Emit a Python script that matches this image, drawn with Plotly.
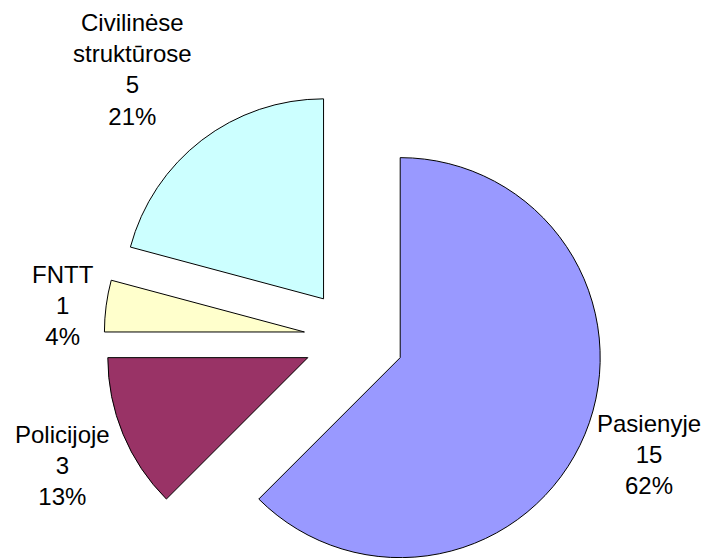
import numpy as np
import plotly.graph_objects as go

# data
labels = ["Pasienyje", "Policijoje", "FNTT", "Civilinėse<br>struktūrose"]
values = [15, 3, 1, 5]
percent_labels = ["62%", "13%", "4%", "21%"]
colors = ["#9999FF", "#993366", "#FFFFCC", "#CCFFFF"]

# the page body has an 8px margin, so the figure is a little smaller than the window
W, H = 701, 550
R = 200            # pie radius, px
EXPLODE = 50       # every slice pushed out by this much, px
CX, CY = 346, 330.5  # pie centre, px from figure top-left

# label block centres, px from figure top-left
label_xy = [(641, 446), (55, 457), (55, 297.5), (124, 61.5)]

fracs = np.array(values) / sum(values)
starts = np.concatenate([[0], np.cumsum(fracs)[:-1]])
mids = np.radians((starts + fracs / 2) * 360)

fig = go.Figure()

# one trace per slice so each slice can be exploded without shrinking the pie
for k in range(len(values)):
    cx = CX + EXPLODE * np.sin(mids[k])
    cy = (H - CY) + EXPLODE * np.cos(mids[k])
    fig.add_trace(go.Pie(
        labels=labels,
        values=values,
        sort=False,
        direction="clockwise",
        rotation=0,
        marker=dict(
            colors=[colors[i] if i == k else "rgba(0,0,0,0)" for i in range(len(values))],
            line=dict(color="black", width=[1 if i == k else 0 for i in range(len(values))]),
        ),
        textinfo="none",
        domain=dict(
            x=[max(0, (cx - R) / W), min(1, (cx + R) / W)],
            y=[max(0, (cy - R) / H), min(1, (cy + R) / H)],
        ),
        hoverinfo="skip",
        showlegend=False,
    ))

for k in range(len(values)):
    fig.add_annotation(
        text=f"{labels[k]}<br>{values[k]}<br>{percent_labels[k]}",
        x=label_xy[k][0] / W,
        y=1 - label_xy[k][1] / H,
        xref="paper",
        yref="paper",
        xanchor="center",
        yanchor="middle",
        align="center",
        showarrow=False,
        font=dict(family="Liberation Sans, Arial, sans-serif", size=24, color="black"),
    )

fig.update_layout(
    width=W,
    height=H,
    margin=dict(l=0, r=0, t=0, b=0),
    paper_bgcolor="white",
    plot_bgcolor="white",
    showlegend=False,
)

fig.write_html("out.html")
